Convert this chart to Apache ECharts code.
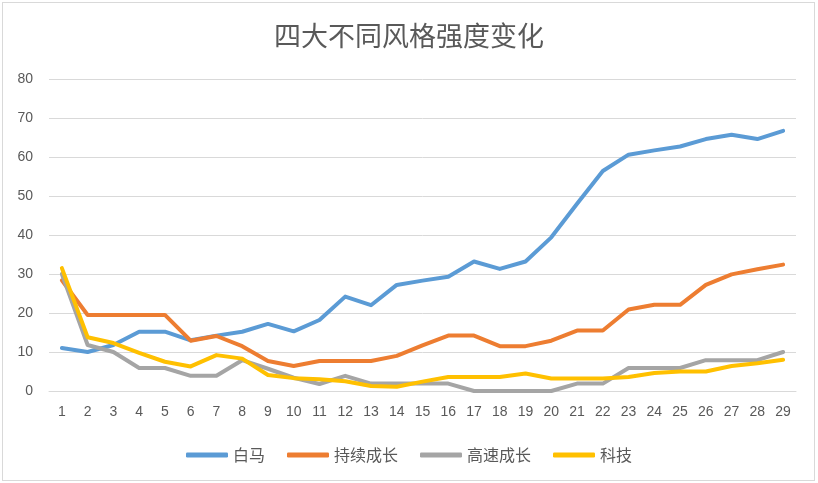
<!DOCTYPE html>
<html>
<head>
<meta charset="utf-8">
<script src="https://cdn.jsdelivr.net/npm/echarts@6/dist/echarts.min.js"></script>
<style>
  html, body { margin: 0; padding: 0; background: #fff; }
  #frame { position: absolute; left: 2px; top: 2px; width: 811px; height: 477px; border: 1px solid #d9d9d9; }
  #chart { position: absolute; left: 0; top: 0; width: 818px; height: 483px; }
</style>
</head>
<body>
<div id="frame"></div>
<div id="chart"></div>
<script>
// 1..29 期
const PERIODS = Array.from({ length: 29 }, (_, i) => String(i + 1));

const SERIES_NAMES = ["白马", "持续成长", "高速成长", "科技"];

const baima = [11, 10, 11.8, 15.2, 15.2, 13, 14.2, 15.2, 17.2, 15.3, 18.2, 24.2, 22, 27.2, 28.3, 29.3,
  33.2, 31.3, 33.2, 39.4, 48, 56.4, 60.6, 61.7, 62.7, 64.6, 65.7, 64.6, 66.7];
const chixu = [28.4, 19.5, 19.5, 19.5, 19.5, 12.9, 14.1, 11.5, 7.7, 6.4, 7.7, 7.7, 7.7, 9, 11.7, 14.2,
  14.2, 11.5, 11.5, 12.9, 15.5, 15.5, 20.9, 22.1, 22.1, 27.2, 29.9, 31.2, 32.4];
const gaosu = [30, 11.8, 10, 5.9, 5.9, 3.9, 3.9, 7.9, 5.7, 3.4, 1.8, 3.9, 1.9, 1.9, 1.9, 1.9,
  0, 0, 0, 0, 1.9, 1.9, 5.9, 5.9, 5.9, 7.9, 7.9, 7.9, 10];
const keji = [31.5, 13.8, 12.3, 9.8, 7.5, 6.3, 9.2, 8.3, 4.1, 3.3, 3, 2.5, 1.3, 1.1, 2.4, 3.6,
  3.6, 3.6, 4.5, 3.2, 3.2, 3.2, 3.6, 4.6, 5, 5, 6.4, 7.1, 8];

const Y_MIN = 0, Y_MAX = 80, Y_STEP = 10;

const COLORS = ["#5B9BD5", "#ED7D31", "#A5A5A5", "#FFC000"];
const TEXT = "#595959";
const FONT = "'Liberation Sans', 'Noto Sans CJK SC', sans-serif";
const CJK = "'Noto Sans CJK SC', sans-serif";

const chart = echarts.init(document.getElementById("chart"));

const series = [baima, chixu, gaosu, keji].map((data, i) => ({
  name: SERIES_NAMES[i],
  type: "line",
  data,
  showSymbol: false,
  symbol: "none",
  lineStyle: { width: 4, color: COLORS[i], cap: "round", join: "round" },
  itemStyle: { color: COLORS[i] },
}));

chart.setOption({
  animation: false,
  textStyle: { fontFamily: FONT },
  title: {
    text: "四大不同风格强度变化",
    left: "center",
    top: 17,
    textStyle: { color: TEXT, fontSize: 27, fontWeight: "normal", fontFamily: CJK },
  },
  legend: {
    bottom: 15,
    left: "center",
    itemWidth: 42,
    itemHeight: 5,
    itemGap: 22,
    icon: "roundRect",
    textStyle: { color: TEXT, fontSize: 16, fontFamily: CJK },
    data: SERIES_NAMES,
  },
  grid: { left: 49, right: 22, top: 79, bottom: 92 },
  xAxis: {
    type: "category",
    data: PERIODS,
    boundaryGap: true,
    axisLine: { lineStyle: { color: "#d9d9d9", width: 1 } },
    axisTick: { show: false },
    axisLabel: { color: TEXT, fontSize: 14, margin: 14, interval: 0 },
  },
  yAxis: {
    type: "value",
    min: Y_MIN,
    max: Y_MAX,
    interval: Y_STEP,
    axisLine: { show: false },
    axisTick: { show: false },
    axisLabel: { color: TEXT, fontSize: 14, margin: 16 },
    splitLine: { lineStyle: { color: "#d9d9d9", width: 1 } },
  },
  series,
});
</script>
</body>
</html>
